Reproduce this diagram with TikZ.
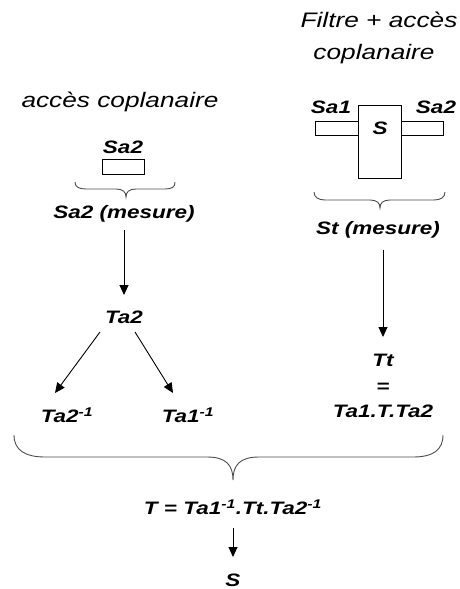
\documentclass[tikz,border=0pt]{standalone}
\usepackage{fontspec}
\setmainfont[FakeStretch=1.25]{Liberation Sans}
\usetikzlibrary{arrows.meta,calc}

\begin{document}
\begin{tikzpicture}[x=1pt,y=-1pt,
  lbl/.style={font=\fontsize{18}{21}\selectfont\bfseries\itshape, inner sep=0pt},
  title/.style={font=\fontsize{21}{25}\selectfont\itshape, inner sep=0pt},
  arr/.style={draw=black, line width=0.9pt, -{Triangle[length=10pt,width=9pt]}},
  brace/.style={draw=black!70, line width=0.9pt},
  part/.style={draw=black, line width=0.8pt, fill=white, rectangle, inner sep=0pt, outer sep=0pt}]
\useasboundingbox (0,0) rectangle (459,589);

% ---- left branch: coplanar access alone
\node[title] (tl) at (120,102) {accès coplanaire};
\node[lbl] (sa2l) at (123,147) {Sa2};
\node[part, minimum width=42pt, minimum height=15pt] (acc) at (123,166.5) {};
\draw[brace] (75,182) .. controls (75,187) and (79,189) .. (86,189) -- (116,189)
  .. controls (123,189) and (126,192) .. (126,197)
  .. controls (126,192) and (129,189) .. (136,189) -- (165,189)
  .. controls (172,189) and (175,187) .. (175,182);
\node[lbl] (sa2m) at (124,214) {Sa2 (mesure)};
\node[lbl] (ta2) at (124,317) {Ta2};
\node[lbl] (tam2) at (67,415) {Ta2\textsuperscript{-1}};
\node[lbl] (tam1) at (188,415) {Ta1\textsuperscript{-1}};

\draw[arr] ($(sa2m)+(0,16)$) -- ($(ta2)+(0,-22)$);
\draw[arr] ($(ta2)+(-24,15)$) -- ($(tam2)+(-12,-22)$);
\draw[arr] ($(ta2)+(11,15)$) -- ($(tam1)+(-15,-22)$);

% ---- right branch: filter with its two accesses
\node[title] (tr1) at (379,20) {Filtre + accès};
\node[title] (tr2) at (374,54) {coplanaire};
\node[part, minimum width=43pt, minimum height=14pt] (stub1) at (336.5,128) {};
\node[part, minimum width=42pt, minimum height=14pt] (stub2) at (422,128) {};
\node[part, minimum width=43pt, minimum height=73pt] (filt) at (379.5,141.5) {};
\node[lbl] (s) at (380,128) {S};
\node[lbl] (sa1) at (331,107) {Sa1};
\node[lbl] (sa2r) at (436,107) {Sa2};
\draw[brace] (314,192) .. controls (314,197) and (318,200) .. (325,200) -- (370,200)
  .. controls (377,200) and (380,203) .. (380,208)
  .. controls (380,203) and (383,200) .. (390,200) -- (434,200)
  .. controls (441,200) and (445,197) .. (445,192);
\node[lbl] (st) at (378,230) {St (mesure)};
\node[lbl] (tt) at (383,360) {Tt};
\node[lbl] (eq) at (383,388) {=};
\node[lbl] (prod) at (383,411) {Ta1.T.Ta2};
\draw[arr] ($(tt |- st)+(0,20)$) -- ($(tt)+(0,-23)$);

% ---- combination
\draw[brace] (14,435) .. controls (14,450) and (25,457) .. (45,457) -- (207,457)
  .. controls (226,457) and (233,465) .. (233,480)
  .. controls (233,465) and (240,457) .. (259,457) -- (413,457)
  .. controls (433,457) and (443,450) .. (443,435);
\node[lbl] (teq) at (233,507) {T = Ta1\textsuperscript{-1}.Tt.Ta2\textsuperscript{-1}};
\node[lbl] (sres) at (233,580) {S};
\draw[arr] ($(teq)+(0,21)$) -- ($(sres)+(0,-23)$);
\end{tikzpicture}
\end{document}
